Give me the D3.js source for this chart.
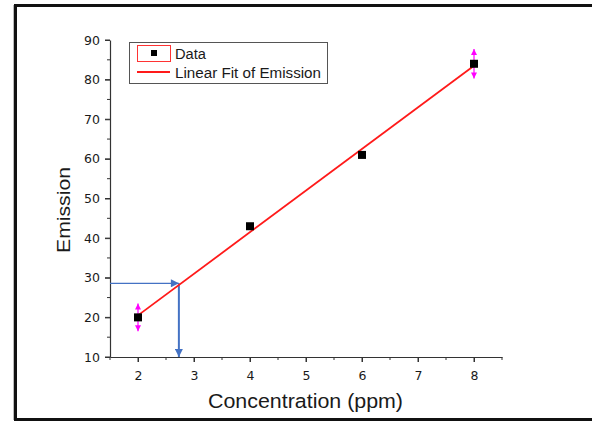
<!DOCTYPE html>
<html>
<head>
<meta charset="utf-8">
<script src="https://cdn.jsdelivr.net/npm/d3@7"></script>
<style>
  body { margin: 0; background: #fff; overflow: hidden; }
  svg { display: block; }
  text { font-family: "Liberation Sans", Arial, sans-serif; }
</style>
</head>
<body>
<svg id="chart" width="592" height="421"></svg>
<script>
// measured points
var conc = [2, 4, 6, 8];
var emission = [20, 43, 61, 84];
var errs = [3.5, 0, 0, 3.7];
// fitted line end points
var fitX = [2, 8];
var fitY = [20.5, 83.5];
// reading of the unknown sample
var readX = 2.73;
var readY = 28.6;
var xTicks = [2, 3, 4, 5, 6, 7, 8];
var yTicks = [10, 20, 30, 40, 50, 60, 70, 80, 90];

var svg = d3.select('#chart');
var plotLeft = 110, plotRight = 502, plotTop = 40, plotBottom = 357;

var x = d3.scaleLinear().domain([1.5, 8.5]).range([plotLeft, plotRight]);
var y = d3.scaleLinear().domain([10, 90]).range([plotBottom, plotTop]);

// outer frame: left, top and bottom only, it runs off the right side
var frame = svg.append('g').attr('stroke', '#111').attr('stroke-width', 3);
frame.append('line').attr('x1', 15.5).attr('x2', 15.5).attr('y1', 4).attr('y2', 421);
frame.append('line').attr('x1', 14).attr('x2', 592).attr('y1', 5.5).attr('y2', 5.5);
frame.append('line').attr('x1', 14).attr('x2', 592).attr('y1', 419.5).attr('y2', 419.5);
svg.append('line')
    .attr('x1', 13.5).attr('x2', 13.5).attr('y1', 5).attr('y2', 420)
    .attr('stroke', '#bbb').attr('stroke-width', 1);

var defs = svg.append('defs');
function arrowMarker(id, color, w, h) {
    defs.append('marker')
	    .attr('id', id)
	    .attr('viewBox', '0 0 10 10')
	    .attr('refX', 10).attr('refY', 5)
	    .attr('markerUnits', 'userSpaceOnUse')
	    .attr('markerWidth', w).attr('markerHeight', h)
	    .attr('orient', 'auto')
	    .append('path')
	    .attr('d', 'M0,0 L10,5 L0,10 Z')
	    .attr('fill', color);
}
arrowMarker('blueArrow', '#4472c4', 9, 8);
arrowMarker('pinkArrow', '#ff00ff', 7, 6);

// minor ticks
var g = svg.append('g');
d3.range(1.5, 8.51, 0.5).forEach(function (v) {
    var major = Math.abs(v - Math.round(v)) < 0.01;
    g.append('line')
	    .attr('x1', x(v)).attr('x2', x(v))
	    .attr('y1', plotBottom).attr('y2', plotBottom + (major ? 5 : 3))
	    .attr('stroke', '#333');
});
d3.range(10, 90.1, 5).forEach(function (v) {
    var major = v % 10 === 0;
    g.append('line')
	    .attr('x1', plotLeft).attr('x2', plotLeft - (major ? 5 : 3))
	    .attr('y1', y(v)).attr('y2', y(v))
	    .attr('stroke', '#333');
});

var xAxis = svg.append('g')
	.attr('transform', 'translate(0,' + plotBottom + ')')
	.call(d3.axisBottom(x).tickValues(xTicks).tickSize(5).tickSizeOuter(0).tickFormat(d3.format('d')));
var yAxis = svg.append('g')
	.attr('transform', 'translate(' + plotLeft + ',0)')
	.call(d3.axisLeft(y).tickValues(yTicks).tickSize(5).tickSizeOuter(0).tickFormat(d3.format('d')));

[xAxis, yAxis].forEach(function (a) {
    a.select('.domain').attr('stroke', '#333').attr('stroke-width', 1.2);
    a.selectAll('.tick line').attr('stroke', '#333');
    a.selectAll('.tick text')
	    .attr('fill', '#1a1a1a')
	    .style('font-family', '"DejaVu Sans", sans-serif')
	    .style('font-size', '12.5px');
});
xAxis.selectAll('.tick text').attr('y', 10).attr('dy', '1.05em');
yAxis.selectAll('.tick text').attr('x', -10);

// axis titles
svg.append('text')
    .attr('x', 305.5).attr('y', 408)
    .attr('text-anchor', 'middle')
    .attr('fill', '#1a1a1a')
    .attr('textLength', 195).attr('lengthAdjust', 'spacingAndGlyphs')
    .style('font-size', '20.5px')
    .text('Concentration (ppm)');
svg.append('text')
    .attr('transform', 'translate(70,210) rotate(-90)')
    .attr('text-anchor', 'middle')
    .attr('fill', '#1a1a1a')
    .attr('textLength', 86).attr('lengthAdjust', 'spacingAndGlyphs')
    .style('font-size', '19px')
    .text('Emission');

// reading arrows
svg.append('line')
    .attr('x1', plotLeft).attr('y1', y(readY))
    .attr('x2', x(readX)).attr('y2', y(readY))
    .attr('stroke', '#4472c4').attr('stroke-width', 1.2)
    .attr('marker-end', 'url(#blueArrow)');
svg.append('line')
    .attr('x1', x(readX)).attr('y1', y(readY))
    .attr('x2', x(readX)).attr('y2', plotBottom)
    .attr('stroke', '#4472c4').attr('stroke-width', 2)
    .attr('marker-end', 'url(#blueArrow)');

// fit line
var line = d3.line()
	.x(function (d) { return x(d[0]); })
	.y(function (d) { return y(d[1]); });
svg.append('path')
    .datum(d3.zip(fitX, fitY))
    .attr('d', line)
    .attr('fill', 'none')
    .attr('stroke', '#ff1a1a')
    .attr('stroke-width', 1.8);

// error bars
conc.forEach(function (c, i) {
    if (!errs[i]) return;
    [1, -1].forEach(function (s) {
	svg.append('line')
		.attr('x1', x(c)).attr('x2', x(c))
		.attr('y1', y(emission[i])).attr('y2', y(emission[i] + s * errs[i]))
		.attr('stroke', '#ff00ff').attr('stroke-width', 1.2)
		.attr('marker-end', 'url(#pinkArrow)');
    });
});

// data points
svg.selectAll('rect.pt')
    .data(d3.zip(conc, emission))
    .enter().append('rect')
    .attr('class', 'pt')
    .attr('x', function (d) { return x(d[0]) - 4; })
    .attr('y', function (d) { return y(d[1]) - 4; })
    .attr('width', 8).attr('height', 8)
    .attr('fill', '#000');

// legend
var lg = svg.append('g');
lg.append('rect')
    .attr('x', 129.5).attr('y', 42.5).attr('width', 198).attr('height', 41)
    .attr('fill', '#fff').attr('stroke', '#555');
lg.append('rect')
    .attr('x', 137.5).attr('y', 45.5).attr('width', 33).attr('height', 16)
    .attr('fill', 'none').attr('stroke', '#ff3333');
lg.append('rect')
    .attr('x', 151).attr('y', 50).attr('width', 6).attr('height', 6)
    .attr('fill', '#000');
lg.append('line')
    .attr('x1', 137).attr('x2', 170).attr('y1', 72).attr('y2', 72)
    .attr('stroke', '#ff1a1a').attr('stroke-width', 1.8);
lg.append('text').attr('x', 175).attr('y', 59)
    .attr('fill', '#1a1a1a').style('font-size', '14px')
    .attr('textLength', 31).attr('lengthAdjust', 'spacingAndGlyphs')
    .text('Data');
lg.append('text').attr('x', 175).attr('y', 78)
    .attr('fill', '#1a1a1a').style('font-size', '14px')
    .attr('textLength', 146).attr('lengthAdjust', 'spacingAndGlyphs')
    .text('Linear Fit of Emission');
</script>
</body>
</html>
